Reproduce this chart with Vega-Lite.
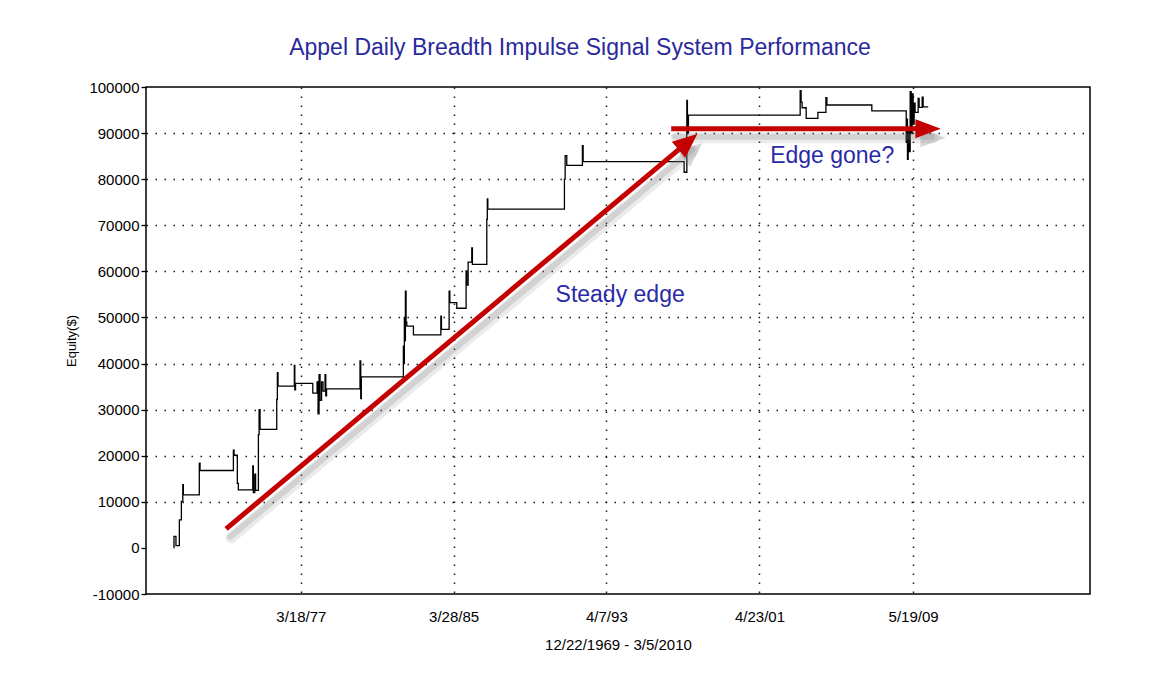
{
  "$schema": "https://vega.github.io/schema/vega-lite/v6.json",
  "autosize": {"type": "none"},
  "width": 944,
  "height": 507,
  "padding": {"left": 146, "top": 87, "right": 61, "bottom": 89},
  "background": "#ffffff",
  "title": {
    "text": "Appel Daily Breadth Impulse Signal System Performance",
    "font": "Liberation Sans",
    "fontSize": 23,
    "fontWeight": "normal",
    "color": "#2a2a9c",
    "anchor": "middle",
    "dx": -38,
    "baseline": "alphabetic",
    "offset": 2
  },
  "config": {
    "view": {"stroke": "#000000", "strokeWidth": 1.5},
    "font": "Liberation Sans"
  },
  "datasets": {
    "equity": [
      {"date": "1970-07-16", "equity": 0},
      {"date": "1970-07-19", "equity": 2500},
      {"date": "1970-08-26", "equity": 500},
      {"date": "1970-10-30", "equity": 6100},
      {"date": "1970-12-08", "equity": 10100},
      {"date": "1971-01-04", "equity": 13700},
      {"date": "1971-01-15", "equity": 11500},
      {"date": "1971-11-17", "equity": 18400},
      {"date": "1971-12-01", "equity": 16800},
      {"date": "1973-09-01", "equity": 21200},
      {"date": "1973-09-14", "equity": 20100},
      {"date": "1973-11-16", "equity": 14000},
      {"date": "1973-12-05", "equity": 12600},
      {"date": "1974-09-08", "equity": 17800},
      {"date": "1974-09-19", "equity": 12000},
      {"date": "1974-10-16", "equity": 16000},
      {"date": "1974-11-01", "equity": 12500},
      {"date": "1974-12-25", "equity": 24600},
      {"date": "1975-01-07", "equity": 30000},
      {"date": "1975-01-26", "equity": 25700},
      {"date": "1975-12-12", "equity": 32200},
      {"date": "1975-12-24", "equity": 38000},
      {"date": "1976-01-06", "equity": 35100},
      {"date": "1976-11-14", "equity": 39600},
      {"date": "1976-11-23", "equity": 34300},
      {"date": "1976-12-07", "equity": 35700},
      {"date": "1977-11-03", "equity": 33600},
      {"date": "1978-01-24", "equity": 36000},
      {"date": "1978-02-12", "equity": 29100},
      {"date": "1978-03-03", "equity": 37600},
      {"date": "1978-03-22", "equity": 32000},
      {"date": "1978-04-20", "equity": 36000},
      {"date": "1978-05-18", "equity": 34000},
      {"date": "1978-06-26", "equity": 37600},
      {"date": "1978-07-10", "equity": 33000},
      {"date": "1978-07-25", "equity": 34500},
      {"date": "1980-04-27", "equity": 40600},
      {"date": "1980-05-11", "equity": 32400},
      {"date": "1980-05-22", "equity": 37100},
      {"date": "1982-08-07", "equity": 43800},
      {"date": "1982-08-16", "equity": 40000},
      {"date": "1982-08-26", "equity": 50000},
      {"date": "1982-09-05", "equity": 45000},
      {"date": "1982-09-15", "equity": 55700},
      {"date": "1982-09-28", "equity": 49000},
      {"date": "1982-10-12", "equity": 48100},
      {"date": "1983-02-16", "equity": 46200},
      {"date": "1984-07-26", "equity": 50300},
      {"date": "1984-08-07", "equity": 47400},
      {"date": "1985-01-01", "equity": 55700},
      {"date": "1985-01-15", "equity": 53200},
      {"date": "1985-05-28", "equity": 52000},
      {"date": "1985-11-23", "equity": 60100},
      {"date": "1985-12-05", "equity": 57000},
      {"date": "1986-01-01", "equity": 62000},
      {"date": "1986-03-12", "equity": 65100},
      {"date": "1986-03-24", "equity": 61500},
      {"date": "1986-12-25", "equity": 71300},
      {"date": "1987-01-04", "equity": 75700},
      {"date": "1987-01-14", "equity": 73500},
      {"date": "1991-01-23", "equity": 80000},
      {"date": "1991-02-06", "equity": 85100},
      {"date": "1991-03-09", "equity": 83000},
      {"date": "1992-01-03", "equity": 87300},
      {"date": "1992-01-17", "equity": 83800},
      {"date": "1997-05-08", "equity": 81500},
      {"date": "1997-06-29", "equity": 97100},
      {"date": "1997-07-10", "equity": 90000},
      {"date": "1997-07-30", "equity": 93900},
      {"date": "2003-06-13", "equity": 99200},
      {"date": "2003-07-01", "equity": 96700},
      {"date": "2003-07-20", "equity": 95500},
      {"date": "2003-10-06", "equity": 93200},
      {"date": "2004-05-18", "equity": 94500},
      {"date": "2004-10-19", "equity": 97700},
      {"date": "2004-11-07", "equity": 96100},
      {"date": "2007-03-19", "equity": 94800},
      {"date": "2009-01-07", "equity": 88000},
      {"date": "2009-01-20", "equity": 93000},
      {"date": "2009-01-31", "equity": 84300},
      {"date": "2009-02-14", "equity": 91000},
      {"date": "2009-03-05", "equity": 86000},
      {"date": "2009-03-24", "equity": 99000},
      {"date": "2009-04-12", "equity": 90000},
      {"date": "2009-05-01", "equity": 98500},
      {"date": "2009-05-20", "equity": 92000},
      {"date": "2009-06-08", "equity": 96500},
      {"date": "2009-06-27", "equity": 94500},
      {"date": "2009-08-24", "equity": 97500},
      {"date": "2009-09-12", "equity": 95600},
      {"date": "2009-11-09", "equity": 97800},
      {"date": "2009-11-28", "equity": 95700},
      {"date": "2010-03-05", "equity": 95700}
    ],
    "arrows": [
      {"arrow": "steady", "date": "1973-04-14", "equity": 4130, "date2": "1997-07-20", "equity2": 88110},
      {"arrow": "gone", "date": "1996-09-02", "equity": 90950, "date2": "2010-03-03", "equity2": 90950}
    ],
    "notes": [
      {"date": "1993-12-27", "equity": 54780, "note": "Steady edge"},
      {"date": "2005-02-16", "equity": 85000, "note": "Edge gone?"}
    ]
  },
  "layer": [
    {
      "data": {"name": "equity"},
      "mark": {"type": "line", "interpolate": "step-after", "color": "#000000", "strokeWidth": 1.3},
      "encoding": {
        "x": {
          "field": "date",
          "type": "temporal",
          "scale": {"domain": ["1969-01-28", "2018-09-04"]},
          "axis": {
            "title": "12/22/1969 - 3/5/2010",
            "titleFont": "Liberation Sans",
            "titleFontSize": 15,
            "titleFontWeight": "normal",
            "titleColor": "#000000",
            "titlePadding": 13,
            "values": [
              {"year": 1977, "month": 3, "date": 18},
              {"year": 1985, "month": 3, "date": 28},
              {"year": 1993, "month": 4, "date": 7},
              {"year": 2001, "month": 4, "date": 23},
              {"year": 2009, "month": 5, "date": 19}
            ],
            "format": "%-m/%-d/%y",
            "labelFont": "Liberation Sans",
            "labelFontSize": 15,
            "labelColor": "#000000",
            "labelPadding": 15,
            "ticks": false,
            "domain": false,
            "grid": true,
            "gridColor": "#000000",
            "gridDash": [1.5, 7.5],
            "gridWidth": 1.5,
            "gridOpacity": 0.9
          }
        },
        "y": {
          "field": "equity",
          "type": "quantitative",
          "scale": {"domain": [-10000, 100000], "nice": false, "zero": false},
          "axis": {
            "title": "Equity($)",
            "titleFont": "Liberation Sans",
            "titleFontSize": 13,
            "titleFontWeight": "normal",
            "titleColor": "#000000",
            "titlePadding": 10,
            "values": [-10000, -5000, 0, 5000, 10000, 15000, 20000, 25000, 30000, 35000, 40000, 45000, 50000, 55000, 60000, 65000, 70000, 75000, 80000, 85000, 90000, 95000, 100000],
            "labelExpr": "datum.value % 10000 == 0 ? '' + datum.value : ''",
            "labelFont": "Liberation Sans",
            "labelFontSize": 15,
            "labelColor": "#000000",
            "labelPadding": 2,
            "tickColor": "#000000",
            "tickSize": 5,
            "tickWidth": 1.3,
            "domain": false,
            "grid": true,
            "gridColor": "#000000",
            "gridDash": [1.5, 7.5],
            "gridWidth": 1.5,
            "gridOpacity": {"condition": {"test": "datum.value % 10000 != 0 || datum.value == 0 || datum.value == 100000 || datum.value == -10000", "value": 0}, "value": 0.9}
          }
        }
      }
    },
    {
      "mark": {"type": "rule", "color": "#000000", "strokeWidth": 1.3},
      "encoding": {"y": {"datum": 0, "type": "quantitative"}}
    },
    {
      "data": {"name": "arrows"},
      "mark": {"type": "rule", "color": "#7a7a7a", "strokeWidth": 11, "opacity": 0.15, "xOffset": 5, "x2Offset": 5, "yOffset": 9, "y2Offset": 9, "strokeCap": "round"},
      "encoding": {
        "x": {"field": "date", "type": "temporal"},
        "y": {"field": "equity", "type": "quantitative"},
        "x2": {"field": "date2"},
        "y2": {"field": "equity2"}
      }
    },
    {
      "data": {"name": "arrows"},
      "mark": {"type": "rule", "color": "#7a7a7a", "strokeWidth": 6, "opacity": 0.22, "xOffset": 4, "x2Offset": 4, "yOffset": 8, "y2Offset": 8, "strokeCap": "round"},
      "encoding": {
        "x": {"field": "date", "type": "temporal"},
        "y": {"field": "equity", "type": "quantitative"},
        "x2": {"field": "date2"},
        "y2": {"field": "equity2"}
      }
    },
    {
      "data": {"name": "arrows"},
      "mark": {"type": "rule", "color": "#c40000", "strokeWidth": 5, "strokeCap": "butt"},
      "encoding": {
        "x": {"field": "date", "type": "temporal"},
        "y": {"field": "equity", "type": "quantitative"},
        "x2": {"field": "date2"},
        "y2": {"field": "equity2"}
      }
    },
    {
      "data": {"name": "arrows"},
      "transform": [{"filter": "datum.arrow == 'steady'"}],
      "mark": {"type": "point", "shape": "M-1,-0.85L1,0L-1,0.85Z", "size": 600, "angle": 320, "filled": true, "color": "#7a7a7a", "opacity": 0.3, "xOffset": 5, "yOffset": 9},
      "encoding": {
        "x": {"field": "date2", "type": "temporal"},
        "y": {"field": "equity2", "type": "quantitative"}
      }
    },
    {
      "data": {"name": "arrows"},
      "transform": [{"filter": "datum.arrow == 'gone'"}],
      "mark": {"type": "point", "shape": "M-1,-0.75L1,0L-1,0.75Z", "size": 650, "filled": true, "color": "#7a7a7a", "opacity": 0.3, "xOffset": 5, "yOffset": 9},
      "encoding": {
        "x": {"field": "date2", "type": "temporal"},
        "y": {"field": "equity2", "type": "quantitative"}
      }
    },
    {
      "data": {"name": "arrows"},
      "transform": [{"filter": "datum.arrow == 'steady'"}],
      "mark": {"type": "point", "shape": "M-1,-0.85L1,0L-1,0.85Z", "size": 600, "angle": 320, "filled": true, "color": "#c40000", "opacity": 1},
      "encoding": {
        "x": {"field": "date2", "type": "temporal"},
        "y": {"field": "equity2", "type": "quantitative"}
      }
    },
    {
      "data": {"name": "arrows"},
      "transform": [{"filter": "datum.arrow == 'gone'"}],
      "mark": {"type": "point", "shape": "M-1,-0.75L1,0L-1,0.75Z", "size": 650, "filled": true, "color": "#c40000", "opacity": 1},
      "encoding": {
        "x": {"field": "date2", "type": "temporal"},
        "y": {"field": "equity2", "type": "quantitative"}
      }
    },
    {
      "data": {"name": "notes"},
      "mark": {"type": "text", "font": "Liberation Sans", "fontSize": 23, "color": "#2a2aa8", "align": "center", "baseline": "middle"},
      "encoding": {
        "x": {"field": "date", "type": "temporal"},
        "y": {"field": "equity", "type": "quantitative"},
        "text": {"field": "note"}
      }
    }
  ]
}
